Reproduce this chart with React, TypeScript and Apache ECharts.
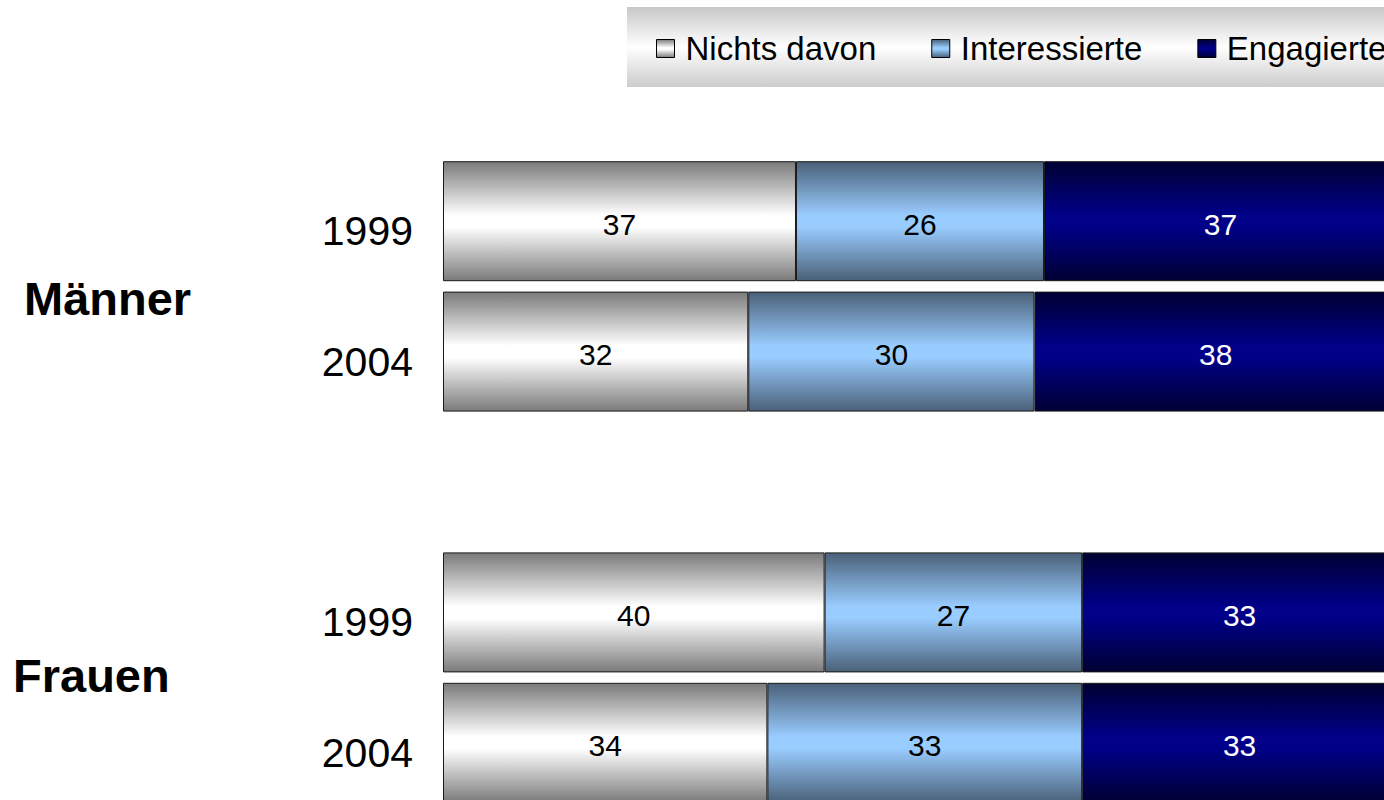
import React, { useEffect, useRef } from "react";
import * as echarts from "echarts";

const categories = ["Männer 1999", "Männer 2004", "", "Frauen 1999", "Frauen 2004"];
const seriesNames = ["Nichts davon", "Interessierte", "Engagierte"];
const nichtsDavon = [37, 32, null, 40, 34];
const interessierte = [26, 30, null, 27, 33];
const engagierte = [37, 38, null, 33, 33];
const groupLabels = ["Männer", "Frauen"];

const vGrad = (edge: string, mid: string) =>
  new echarts.graphic.LinearGradient(0, 0, 0, 1, [
    { offset: 0, color: edge },
    { offset: 0.45, color: mid },
    { offset: 0.55, color: mid },
    { offset: 1, color: edge },
  ]);

export default function App() {
  const ref = useRef<HTMLDivElement>(null);
  useEffect(() => {
    document.body.style.margin = "0";
    if (!ref.current) return;
    const chart = echarts.init(ref.current, undefined, { renderer: "svg" });
    const fills = [
      vGrad("#7a7a7a", "#ffffff"),
      vGrad("#4a6078", "#99ccff"),
      vGrad("#000033", "#000088"),
    ];
    const labelColors = ["#000", "#000", "#fff"];
    const datas = [nichtsDavon, interessierte, engagierte];
    const font = "'Liberation Sans', Arial, sans-serif";
    chart.setOption({
      animation: false,
      backgroundColor: "#fff",
      graphic: [
        {
          type: "rect",
          z: -10,
          shape: { x: 627, y: 7, width: 820, height: 80 },
          style: {
            fill: new echarts.graphic.LinearGradient(0, 0, 0, 1, [
              { offset: 0, color: "#c8c8c8" },
              { offset: 0.5, color: "#ffffff" },
              { offset: 1, color: "#cccccc" },
            ]),
          },
        },
        {
          type: "text",
          left: 24,
          top: 275,
          style: {
            text: groupLabels[0],
            font: "bold 47px 'Liberation Sans', Arial, sans-serif",
            fill: "#000",
          },
        },
        {
          type: "text",
          left: 13,
          top: 652,
          style: {
            text: groupLabels[1],
            font: "bold 47px 'Liberation Sans', Arial, sans-serif",
            fill: "#000",
          },
        },
      ],
      legend: {
        left: 656,
        top: 32,
        padding: 0,
        itemWidth: 18,
        itemHeight: 18,
        itemGap: 55,
        icon: "rect",
        itemStyle: { borderColor: "#000", borderWidth: 1 },
        textStyle: {
          fontSize: 33,
          color: "#000",
          fontFamily: font,
          padding: [0, 0, 0, 6],
        },
        data: seriesNames,
      },
      grid: { left: 443, top: 156, width: 954, height: 652, containLabel: false },
      xAxis: {
        type: "value",
        min: 0,
        max: 100,
        show: false,
      },
      yAxis: {
        type: "category",
        inverse: true,
        data: categories,
        axisLine: { show: false },
        axisTick: { show: false },
        splitLine: { show: false },
        axisLabel: {
          formatter: (v: string) => (v.split(" ")[1] || ""),
          fontSize: 41,
          color: "#000",
          fontFamily: font,
          margin: 30,
          verticalAlign: "top",
          lineHeight: 20,
        },
      },
      series: seriesNames.map((name, i) => ({
        name,
        type: "bar",
        stack: "total",
        barWidth: 120,
        data: datas[i],
        itemStyle: { color: fills[i], borderColor: "#1a1a1a", borderWidth: 1 },
        label: {
          show: true,
          position: "inside",
          color: labelColors[i],
          fontSize: 30,
          fontFamily: font,
          offset: [0, 3],
        },
      })),
    });
    return () => chart.dispose();
  }, []);
  return (
    <div style={{ width: 1384, height: 800, overflow: "hidden", position: "relative" }}>
      <div ref={ref} style={{ width: 1420, height: 830 }} />
    </div>
  );
}
